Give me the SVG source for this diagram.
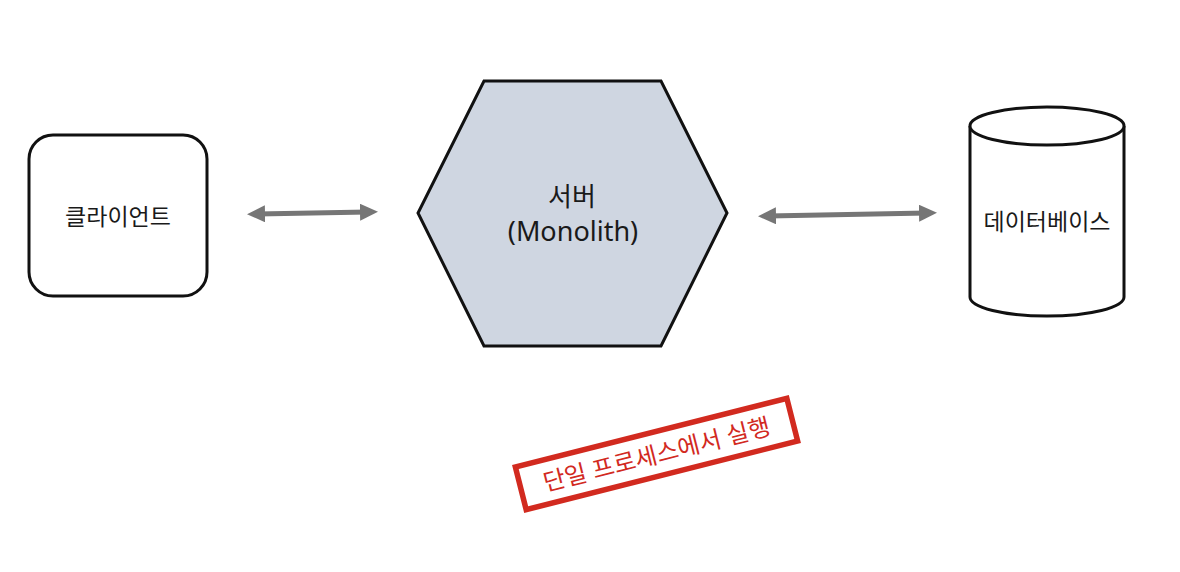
<svg xmlns="http://www.w3.org/2000/svg" width="1180" height="572" viewBox="0 0 1180 572">
<style>
.shape{stroke:#111;stroke-width:3;}
.lbl{font-family:"Noto Sans","Noto Sans CJK KR",sans-serif;font-size:23px;fill:#1a1a1a;text-anchor:middle;}
.conn{stroke:#767676;stroke-width:5;fill:none;marker-start:url(#ah);marker-end:url(#ah);}
.stamp{font-family:"Noto Sans","Noto Sans CJK KR",sans-serif;font-size:24px;fill:#d22a1f;text-anchor:middle;}
</style>
<defs>
<marker id="ah" viewBox="0 0 18 17" refX="8" refY="8.5" markerWidth="18" markerHeight="17" orient="auto-start-reverse" markerUnits="userSpaceOnUse">
<path d="M0,0 L18,8.5 L0,17 z" fill="#767676"/>
</marker>
</defs>
<rect width="1180" height="572" fill="#fff"/>
<g id="client">
<rect class="shape" x="29" y="135" width="178" height="161" rx="24" fill="#fff"/>
<text class="lbl" x="118" y="225">클라이언트</text>
</g>
<g id="server">
<polygon class="shape" points="484,81 661,81 727,213 661,346 484,346 418,213" fill="#cfd6e1"/>
<text class="lbl" x="572" y="206" style="font-size:26px">서버</text>
<text class="lbl" x="573" y="241" style="font-size:27px">(Monolith)</text>
</g>
<g id="database">
<path class="shape" d="M970,126 L970,297 A77,19 0 0 0 1124,297 L1124,126" fill="#fff"/>
<ellipse class="shape" cx="1047" cy="126" rx="77" ry="19" fill="#fff"/>
<text class="lbl" x="1047" y="230">데이터베이스</text>
</g>
<g id="connectors">
<line class="conn" x1="257" y1="214" x2="368" y2="212"/>
<line class="conn" x1="768" y1="216" x2="927" y2="213"/>
</g>
<g id="stamp" transform="translate(656.5,454) rotate(-14.2)">
<rect x="-140" y="-22" width="280" height="44" fill="#fff" stroke="#d22a1f" stroke-width="5.5"/>
<text class="stamp" x="0" y="9">단일 프로세스에서 실행</text>
</g>
</svg>
